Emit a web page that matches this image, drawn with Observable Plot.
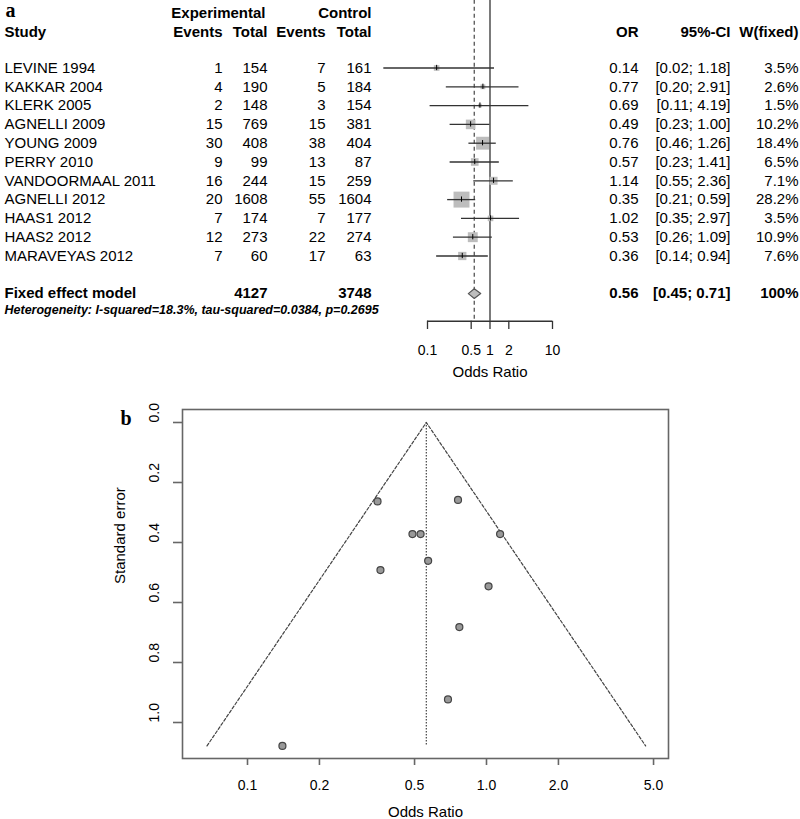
<!DOCTYPE html>
<html><head><meta charset="utf-8">
<script src="https://cdn.jsdelivr.net/npm/d3@7"></script>
<script src="https://cdn.jsdelivr.net/npm/@observablehq/plot@0.6"></script>
<style>
html,body{margin:0;padding:0;background:#fff;}
#wrap{position:relative;width:800px;height:819px;overflow:hidden;background:#fff;}
#pa{position:absolute;left:0;top:0;}
#pb{position:absolute;left:0;top:390px;}
</style></head>
<body><div id="wrap"><div id="pa"></div><div id="pb"></div></div>
<script>
// ---------- data ----------
const studies = ["LEVINE 1994","KAKKAR 2004","KLERK 2005","AGNELLI 2009","YOUNG 2009","PERRY 2010","VANDOORMAAL 2011","AGNELLI 2012","HAAS1 2012","HAAS2 2012","MARAVEYAS 2012"];
const expEvents  = [1, 4, 2, 15, 30, 9, 16, 20, 7, 12, 7];
const expTotal   = [154, 190, 148, 769, 408, 99, 244, 1608, 174, 273, 60];
const ctrlEvents = [7, 5, 3, 15, 38, 13, 15, 55, 7, 22, 17];
const ctrlTotal  = [161, 184, 154, 381, 404, 87, 259, 1604, 177, 274, 63];
const oddsRatio  = [0.14, 0.77, 0.69, 0.49, 0.76, 0.57, 1.14, 0.35, 1.02, 0.53, 0.36];
const ciLower    = [0.02, 0.20, 0.11, 0.23, 0.46, 0.23, 0.55, 0.21, 0.35, 0.26, 0.14];
const ciUpper    = [1.18, 2.91, 4.19, 1.00, 1.26, 1.41, 2.36, 0.59, 2.97, 1.09, 0.94];
const weightFixed = [3.5, 2.6, 1.5, 10.2, 18.4, 6.5, 7.1, 28.2, 3.5, 10.9, 7.6];
const stdError   = [1.078, 0.682, 0.923, 0.372, 0.258, 0.461, 0.372, 0.263, 0.546, 0.372, 0.492];
const fixedOR = 0.56, fixedLower = 0.45, fixedUpper = 0.71, fixedWeight = 100;
const fixedExpTotal = 4127, fixedCtrlTotal = 3748;
const hetI2 = "18.3%", hetTau2 = "0.0384", hetP = "0.2695";
const forestTicks = [0.1, 0.5, 1, 2, 10];
const funnelXTicks = [0.1, 0.2, 0.5, 1, 2, 5];
const funnelYTicks = [0, 0.2, 0.4, 0.6, 0.8, 1.0];

// ---------- derived table ----------
const rows = studies.map((s, i) => ({
  i, study: s, ee: expEvents[i], et: expTotal[i], ce: ctrlEvents[i], ct: ctrlTotal[i],
  or: oddsRatio[i], lo: ciLower[i], hi: ciUpper[i], w: weightFixed[i], se: stdError[i]
}));
const fixedRow = 12;
const FONT = "Liberation Sans, Arial, Helvetica, sans-serif";
const SERIF = "Liberation Serif, Times New Roman, serif";
const f2 = v => v.toFixed(2);

const colText = (data, dx, text, extra = {}) => Plot.text(data, {
  frameAnchor: "left", lineAnchor: "middle", dx, text, textAnchor: "end", fontSize: 15, fill: "#000", ...extra
});

// ---------- panel a: forest plot ----------
const axisY = 13.47;
const diamond = [
  {x: fixedLower, y: fixedRow},
  {x: fixedOR, y: fixedRow - 0.26},
  {x: fixedUpper, y: fixedRow},
  {x: fixedOR, y: fixedRow + 0.26},
  {x: fixedLower, y: fixedRow}
];
const hdr2 = -1.9, hdr1 = -2.93;
const one = [0];

const pa = Plot.plot({
  width: 800, height: 390,
  marginLeft: 0, marginRight: 0, marginTop: 0, marginBottom: 0,
  style: {fontFamily: FONT, background: "#fff", color: "#000"},
  x: {type: "log", domain: [0.1, 10], range: [427, 552], axis: null},
  y: {domain: [-3.590, 17.154], range: [0, 390], axis: null},
  r: {type: "sqrt", domain: [0, 28.2], range: [0, 9]},
  marks: [
    // reference lines
    Plot.ruleX([1], {x: d => d, y1: -3.6, y2: axisY, stroke: "#333", strokeWidth: 1.3}),
    Plot.ruleX([fixedOR], {x: d => d, y1: -3.6, y2: axisY, stroke: "#555", strokeWidth: 1.3, strokeDasharray: "4,3"}),
    // boxes
    Plot.dot(rows, {x: "or", y: "i", r: "w", symbol: "square", fill: "#bdbdbd", stroke: "none"}),
    // CI lines
    Plot.ruleY(rows, {y: "i", x1: "lo", x2: "hi", stroke: "#333", strokeWidth: 1.3}),
    Plot.ruleX(rows, {x: "or", y1: d => d.i - 0.14, y2: d => d.i + 0.14, stroke: "#000", strokeWidth: 1}),
    // diamond
    Plot.line(diamond, {x: "x", y: "y", fill: "#bdbdbd", stroke: "#555", strokeWidth: 1.2}),
    // axis
    Plot.ruleY([axisY], {y: d => d, x1: forestTicks[0], x2: forestTicks[forestTicks.length - 1], stroke: "#333", strokeWidth: 1.3}),
    Plot.ruleX(forestTicks, {x: d => d, y1: axisY, y2: axisY + 0.44, stroke: "#333", strokeWidth: 1.3}),
    Plot.text(forestTicks, {x: d => d, y: () => 15.03, text: d => String(d), fontSize: 14, fill: "#000"}),
    Plot.text(one, {x: () => 1, y: () => 16.2, text: () => "Odds Ratio", fontSize: 15, fill: "#000"}),
    // panel label
    Plot.text(one, {frameAnchor: "left", lineAnchor: "middle", dx: 5, y: () => -3.07, text: () => "a", textAnchor: "start", fontFamily: SERIF, fontWeight: "bold", fontSize: 20, fill: "#000"}),
    // headers
    colText(one, 265, () => "Experimental", {y: () => hdr1, fontWeight: "bold"}),
    colText(one, 371, () => "Control", {y: () => hdr1, fontWeight: "bold"}),
    colText(one, 4, () => "Study", {y: () => hdr2, fontWeight: "bold", textAnchor: "start"}),
    colText(one, 222, () => "Events", {y: () => hdr2, fontWeight: "bold"}),
    colText(one, 267, () => "Total", {y: () => hdr2, fontWeight: "bold"}),
    colText(one, 325, () => "Events", {y: () => hdr2, fontWeight: "bold"}),
    colText(one, 371, () => "Total", {y: () => hdr2, fontWeight: "bold"}),
    colText(one, 638, () => "OR", {y: () => hdr2, fontWeight: "bold"}),
    colText(one, 730, () => "95%-CI", {y: () => hdr2, fontWeight: "bold"}),
    colText(one, 798, () => "W(fixed)", {y: () => hdr2, fontWeight: "bold"}),
    // study rows
    colText(rows, 4, "study", {y: "i", textAnchor: "start"}),
    colText(rows, 222, d => String(d.ee), {y: "i"}),
    colText(rows, 267, d => String(d.et), {y: "i"}),
    colText(rows, 325, d => String(d.ce), {y: "i"}),
    colText(rows, 371, d => String(d.ct), {y: "i"}),
    colText(rows, 638, d => f2(d.or), {y: "i"}),
    colText(rows, 730, d => `[${f2(d.lo)}; ${f2(d.hi)}]`, {y: "i"}),
    colText(rows, 798, d => `${d.w.toFixed(1)}%`, {y: "i"}),
    // fixed effect row
    colText(one, 4, () => "Fixed effect model", {y: () => fixedRow, fontWeight: "bold", textAnchor: "start"}),
    colText(one, 267, () => String(fixedExpTotal), {y: () => fixedRow, fontWeight: "bold"}),
    colText(one, 371, () => String(fixedCtrlTotal), {y: () => fixedRow, fontWeight: "bold"}),
    colText(one, 638, () => f2(fixedOR), {y: () => fixedRow, fontWeight: "bold"}),
    colText(one, 730, () => `[${f2(fixedLower)}; ${f2(fixedUpper)}]`, {y: () => fixedRow, fontWeight: "bold"}),
    colText(one, 798, () => `${fixedWeight}%`, {y: () => fixedRow, fontWeight: "bold"}),
    colText(one, 4, () => `Heterogeneity: I-squared=${hetI2}, tau-squared=${hetTau2}, p=${hetP}`,
      {y: () => 12.85, fontWeight: "bold", fontStyle: "italic", fontSize: 12.5, textAnchor: "start"})
  ]
});
document.getElementById("pa").appendChild(pa);

// ---------- panel b: funnel plot ----------
const seMax = d3.max(stdError);
const funnel = [
  {x: fixedOR * Math.exp(-1.96 * seMax), y: seMax},
  {x: fixedOR, y: 0},
  {x: fixedOR * Math.exp(1.96 * seMax), y: seMax}
];
const pb = Plot.plot({
  width: 800, height: 429,
  marginLeft: 182, marginRight: 132, marginTop: 19, marginBottom: 61,
  style: {fontFamily: FONT, background: "#fff", color: "#000"},
  x: {type: "log", domain: [0.05346, 5.775], label: null},
  y: {domain: [-0.0433, 1.12], reverse: true, label: null},
  marks: [
    Plot.frame({stroke: "#666", strokeWidth: 1.6}),
    Plot.axisX({ticks: funnelXTicks, tickSize: 7, tickPadding: 15, tickFormat: d => d.toFixed(1), fontSize: 14, stroke: "#666", strokeWidth: 1.6, label: null}),
    Plot.axisY({ticks: funnelYTicks, tickSize: 9, tickFormat: () => "", stroke: "#666", strokeWidth: 1.6, label: null}),
    Plot.text(funnelYTicks, {y: d => d, text: d => d.toFixed(1), frameAnchor: "left", lineAnchor: "middle", dx: -28, rotate: -90, fontSize: 14, fill: "#000"}),
    Plot.text(one, {frameAnchor: "left", lineAnchor: "middle", dx: -62, rotate: -90, text: () => "Standard error", fontSize: 15, fill: "#000"}),
    Plot.text(one, {frameAnchor: "bottom", lineAnchor: "middle", dy: 54, text: () => "Odds Ratio", fontSize: 15, fill: "#000"}),
    Plot.text(one, {frameAnchor: "top-left", lineAnchor: "middle", dx: -62, dy: 9, text: () => "b", textAnchor: "start", fontFamily: SERIF, fontWeight: "bold", fontSize: 20, fill: "#000"}),
    Plot.line(funnel, {x: "x", y: "y", stroke: "#444", strokeWidth: 1.2, strokeDasharray: "3,2"}),
    Plot.ruleX([fixedOR], {x: d => d, y1: () => 0, y2: () => seMax, stroke: "#444", strokeWidth: 1.2, strokeDasharray: "1.5,1.5"}),
    Plot.dot(rows, {x: "or", y: "se", r: 3.5, fill: "#999", stroke: "#444", strokeWidth: 1.2})
  ]
});
document.getElementById("pb").appendChild(pb);
</script>
</body></html>
